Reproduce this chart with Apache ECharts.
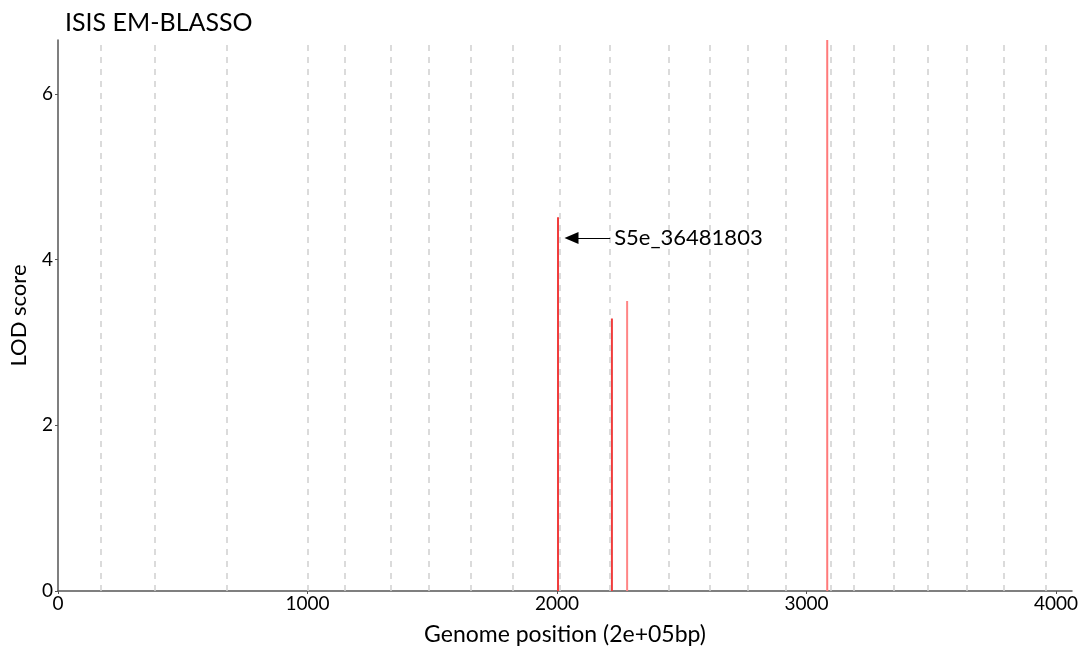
<!DOCTYPE html>
<html>
<head>
<meta charset="utf-8">
<script src="https://cdn.jsdelivr.net/npm/echarts@6/dist/echarts.min.js"></script>
<style>
html,body{margin:0;padding:0;background:#fff;}
#chart{width:1085px;height:651px;}
</style>
</head>
<body>
<div id="chart"></div>
<script>
// Data
const titleText = "ISIS EM-BLASSO";
const xAxisName = "Genome position (2e+05bp)";
const yAxisName = "LOD score";
// bin boundaries (dashed lines), in genome position units
const boundaries = [172, 388, 675, 1000, 1151, 1334, 1486, 1654, 1822, 2012, 2213, 2449, 2613, 2765, 2917, 3096, 3188, 3348, 3484, 3644, 3791, 3959];
// QTN positions and LOD scores
const qtnPos = [2004, 2220, 2281, 3083];
const qtnLod = [4.51, 3.29, 3.50, 6.65];
const qtnColors = ["#f03c3c", "#f03c3c", "#ff8585", "#ff7a7a"];
// annotation
const annoName = "S5e_36481803";
const annoFrom = [2213, 4.26];
const annoTo = [2058, 4.26];

const FONT = "Lato";
const chart = echarts.init(document.getElementById('chart'), null, {renderer: 'canvas'});

const option = {
  animation: false,
  backgroundColor: '#ffffff',
  title: {
    text: titleText,
    left: 60, top: 5,
    textStyle: {fontFamily: FONT, fontSize: 25, fontWeight: 'normal', color: '#000'}
  },
  grid: {left: 55, right: 13, top: 40, bottom: 55, containLabel: false},
  xAxis: {
    type: 'value', min: 0, max: 4064, interval: 1000,
    name: xAxisName, nameLocation: 'middle', nameGap: 32,
    nameTextStyle: {fontFamily: FONT, fontSize: 23, color: '#000'},
    axisLine: {show: true, onZero: false, lineStyle: {color: '#555', width: 1.5}},
    axisTick: {show: true, length: 3, lineStyle: {color: '#555'}},
    axisLabel: {fontFamily: FONT, fontSize: 19, color: '#000', margin: 3, showMaxLabel: false,
      formatter: v => String(v)},
    splitLine: {show: false}
  },
  yAxis: {
    type: 'value', min: 0, max: 6.65, interval: 2,
    name: yAxisName, nameLocation: 'middle', nameGap: 28,
    nameTextStyle: {fontFamily: FONT, fontSize: 22, color: '#000'},
    axisLine: {show: true, lineStyle: {color: '#555', width: 1.5}},
    axisTick: {show: true, length: 3, lineStyle: {color: '#555'}},
    axisLabel: {fontFamily: FONT, fontSize: 19, color: '#000', margin: 5, showMaxLabel: false},
    splitLine: {show: false}
  },
  series: [
    {
      type: 'line',
      data: [],
      silent: true,
      markLine: {
        silent: true,
        symbol: ['none', 'none'],
        label: {show: false},
        lineStyle: {type: [6, 6], color: '#d0d0d0', width: 1.5},
        data: boundaries.map(v => ({xAxis: v}))
      }
    },
    {
      type: 'bar',
      barWidth: 2,
      data: qtnPos.map((p, i) => ({value: [p, qtnLod[i]], itemStyle: {color: qtnColors[i]}})),
      markLine: {
        silent: true,
        symbol: ['none', 'triangle'],
        symbolSize: [12, 14],
        lineStyle: {type: 'solid', color: '#000', width: 1.2},
        label: {
          show: true, position: 'start', distance: 4,
          formatter: annoName,
          fontFamily: FONT, fontSize: 22, color: '#000'
        },
        data: [[{coord: annoFrom}, {coord: annoTo}]]
      }
    }
  ]
};
chart.setOption(option);
</script>
</body>
</html>
